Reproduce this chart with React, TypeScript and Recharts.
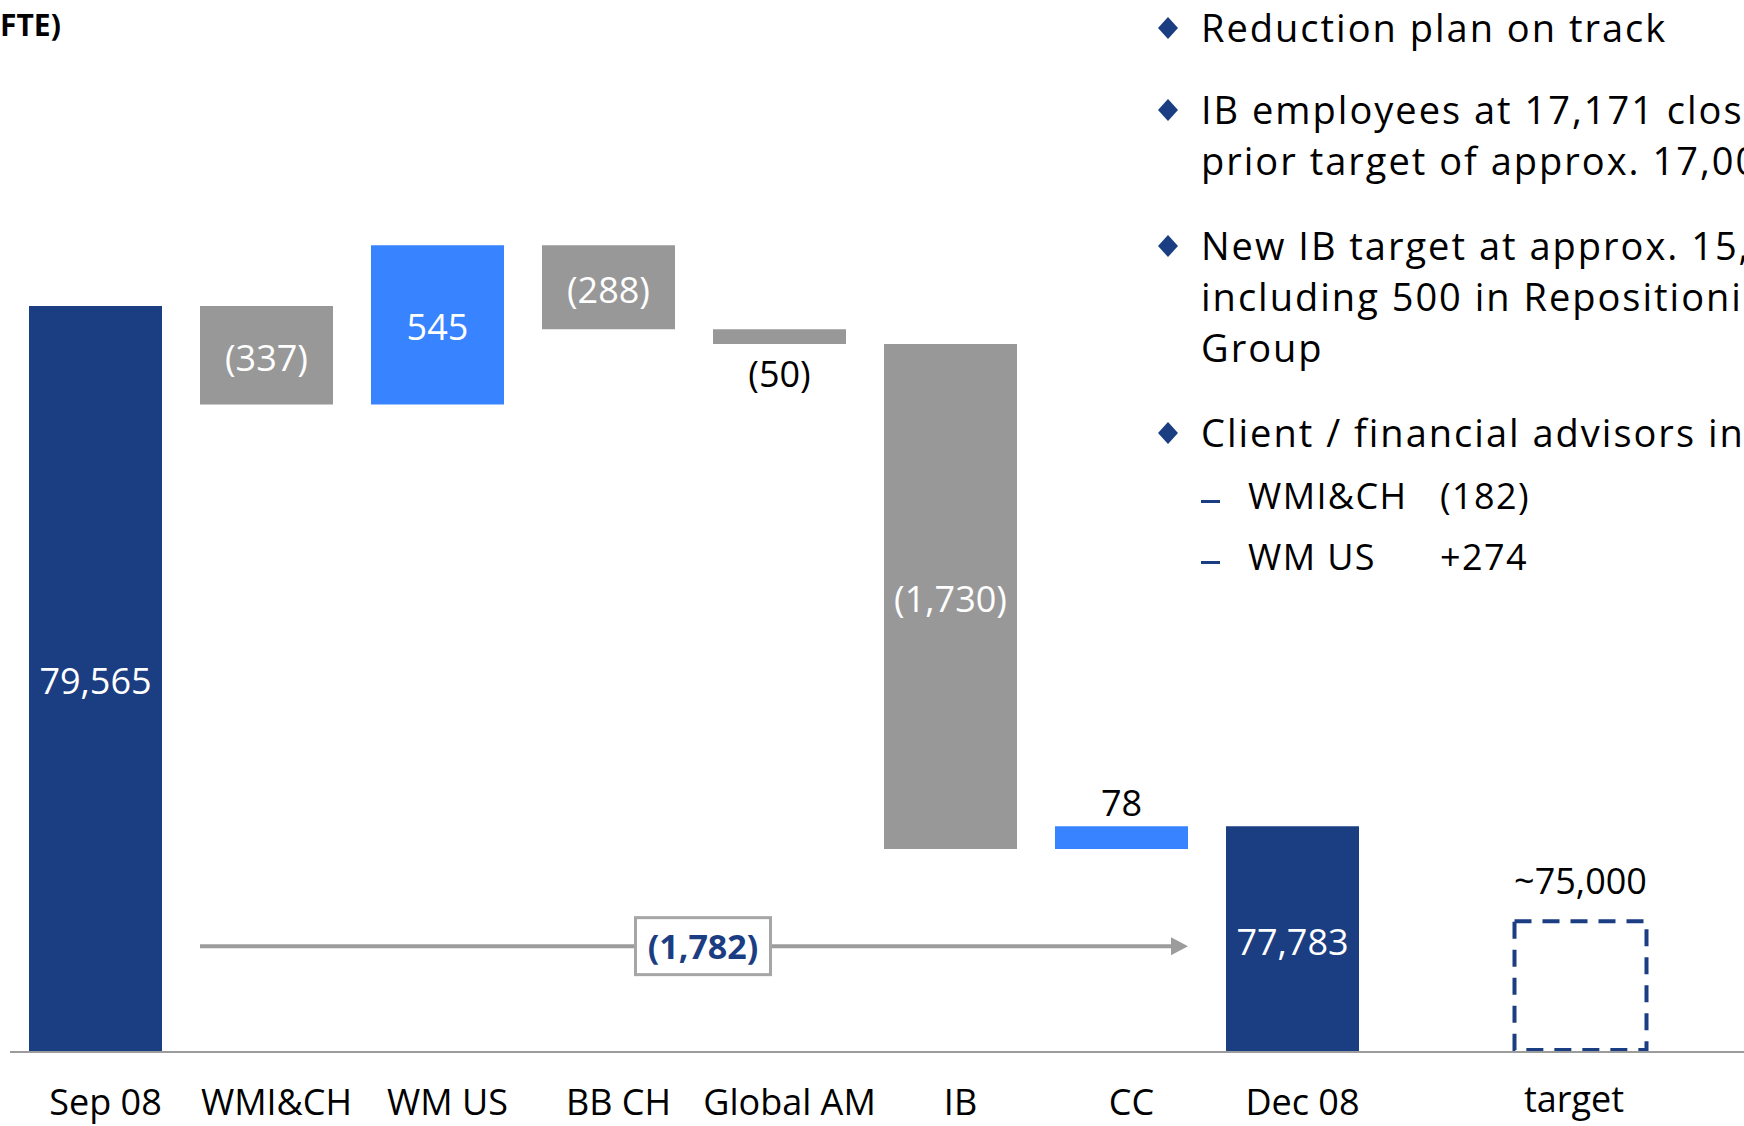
import { BarChart, Bar, XAxis, YAxis, Cell, LabelList, ReferenceLine } from 'recharts'

// Headcount bridge Sep 08 -> Dec 08 (FTE)
const categories = ['Sep 08', 'WMI&CH', 'WM US', 'BB CH', 'Global AM', 'IB', 'CC', 'Dec 08']
const startFte = 79565
const divisionChanges = [-337, 545, -288, -50, -1730, 78]
const endFte = 77783

const targetCategories = ['target']
const targetFte = [75000]
const targetLabels = ['~75,000']

const bulletLines = [
  ['Reduction plan on track'],
  ['IB employees at 17,171 close to', 'prior target of approx. 17,000'],
  ['New IB target at approx. 15,000', 'including 500 in Repositioning', 'Group'],
  ['Client / financial advisors in'],
]
const subItems = [
  ['WMI&CH', '(182)'],
  ['WM US', '+274'],
]

// truncated value axis of the bridge, and the "not to scale" axis of the target box
const yMin = 77010
const yMax = 80500
const targetYMin = 74545
const targetYMax = 78035

const NAVY = '#1b3d82'
const BLUE = '#3883ff'
const GREY = '#989898'
const AXIS = '#9c9c9c'
const FONT = "'Open Sans', 'Noto Sans', sans-serif"
const BAR_SIZE = 133

const withCommas = (n: number) => String(Math.abs(n)).replace(/\B(?=(\d{3})+(?!\d))/g, ',')
const fmt = (n: number) => (n < 0 ? `(${withCommas(n)})` : withCommas(n))

type Row = { name: string; range: [number, number]; kind: 'total' | 'up' | 'down'; label: string }

const rows: Row[] = [{ name: categories[0], range: [yMin, startFte], kind: 'total', label: fmt(startFte) }]
let level = startFte
divisionChanges.forEach((d, i) => {
  const next = level + d
  rows.push({
    name: categories[i + 1],
    range: [Math.min(level, next), Math.max(level, next)],
    kind: d >= 0 ? 'up' : 'down',
    label: fmt(d),
  })
  level = next
})
rows.push({ name: categories[categories.length - 1], range: [yMin, endFte], kind: 'total', label: fmt(endFte) })

const bridgeChange = endFte - startFte
const bridgeY = (yMin + endFte) / 2

const targetRows = targetCategories.map((name, i) => ({
  name,
  range: [targetYMin, targetFte[i]],
  label: targetLabels[i],
}))

const colorOf = (kind: Row['kind']) => (kind === 'total' ? NAVY : kind === 'up' ? BLUE : GREY)

function boxOf(props: any) {
  const vb = props.viewBox ?? props
  const x = Number(vb.x ?? props.x)
  const y = Number(vb.y ?? props.y)
  const w = Number(vb.width ?? props.width)
  const h = Number(vb.height ?? props.height)
  return { x, w, top: Math.min(y, y + h), h: Math.abs(h) }
}

const ValueLabel = (props: any) => {
  const { x, w, top, h } = boxOf(props)
  const text = String(props.value)
  let cy = top + h / 2 + 2
  let fill = '#fff'
  // thin bars get their value outside, below for cuts and above for additions
  if (h < 40) {
    fill = '#000'
    cy = text.startsWith('(') ? top + h + 30 : top - 24
  }
  return (
    <text x={x + w / 2} y={cy} textAnchor="middle" dominantBaseline="central" fontSize={36} fontFamily={FONT} fill={fill}>
      {text}
    </text>
  )
}

const TargetLabel = (props: any) => {
  const { x, w, top } = boxOf(props)
  return (
    <text x={x + w / 2} y={top - 39} textAnchor="middle" dominantBaseline="central" fontSize={36} fontFamily={FONT} fill="#000">
      {String(props.value)}
    </text>
  )
}

const makeTick = (dx: number, dy: number) => (props: any) => {
  const { x, y, payload } = props
  return (
    <text x={x + dx} y={y + dy} textAnchor="middle" dominantBaseline="central" fontSize={36} fontFamily={FONT} fill="#000">
      {payload.value}
    </text>
  )
}

const BridgeArrow = (props: any) => {
  const left = props.x1 - BAR_SIZE / 2
  const right = props.x2 + BAR_SIZE / 2
  const y = props.y1 + 7
  const mid = (left + right) / 2 + 9
  return (
    <g>
      <line x1={left} y1={y} x2={right - 14} y2={y} stroke={AXIS} strokeWidth={4} />
      <polygon points={`${right - 17},${y - 9} ${right},${y} ${right - 17},${y + 9}`} fill={AXIS} />
      <rect x={mid - 67.5} y={y - 28.5} width={135} height={57} fill="#fff" stroke="#a6a6a6" strokeWidth={3} />
      <text x={mid} y={y} textAnchor="middle" dominantBaseline="central" fontSize={34} fontWeight={700} fontFamily={FONT} fill={NAVY}>
        {fmt(bridgeChange)}
      </text>
    </g>
  )
}

const DashedBox = (props: any) => {
  const { x, y, width, height } = props
  return (
    <rect x={x + 2} y={y + 2} width={width - 4} height={height - 4} fill="none" stroke={NAVY} strokeWidth={4} strokeDasharray="17 11" />
  )
}

const Diamond = () => (
  <svg width={20} height={22} style={{ display: 'block' }}>
    <polygon points="10,0 20,11 10,22 0,11" fill={NAVY} />
  </svg>
)

const paraTops = [27, 109, 245, 432]
const subTops = [496, 557]

export default function App() {
  return (
    <div
      style={{
        position: 'absolute',
        left: 0,
        top: 0,
        width: 1744,
        height: 1126,
        overflow: 'hidden',
        background: '#fff',
        fontFamily: FONT,
        color: '#000',
      }}
    >
      <div style={{ position: 'absolute', left: 0, top: 6, fontSize: 30, fontWeight: 700, whiteSpace: 'nowrap', lineHeight: '38px' }}>
        FTE)
      </div>

      <div style={{ position: 'absolute', left: 0, top: 0 }}>
        <BarChart width={1378} height={1126} data={rows} margin={{ top: 33, right: 0, left: 10, bottom: 0 }} barSize={BAR_SIZE}>
          <XAxis
            dataKey="name"
            interval={0}
            height={74}
            tickLine={false}
            tickSize={0}
            tickMargin={0}
            axisLine={{ stroke: AXIS, strokeWidth: 2 }}
            tick={makeTick(10, 49)}
          />
          <YAxis hide type="number" domain={[yMin, yMax]} allowDataOverflow />
          <Bar dataKey="range" isAnimationActive={false}>
            {rows.map((r, i) => (
              <Cell key={`cell-${i}`} fill={colorOf(r.kind)} />
            ))}
            <LabelList dataKey="label" content={ValueLabel} />
          </Bar>
          <ReferenceLine
            segment={[
              { x: categories[1], y: bridgeY },
              { x: categories[6], y: bridgeY },
            ]}
            shape={(p: any) => <BridgeArrow {...p} />}
          />
        </BarChart>
      </div>

      <div style={{ position: 'absolute', left: 1378, top: 0 }}>
        <BarChart width={366} height={1126} data={targetRows} margin={{ top: 33, right: 0, left: 0, bottom: 0 }} barSize={136}>
          <XAxis
            dataKey="name"
            interval={0}
            height={74}
            tickLine={false}
            tickSize={0}
            tickMargin={0}
            padding={{ left: 116.5, right: 78.5 }}
            axisLine={{ stroke: AXIS, strokeWidth: 2 }}
            tick={makeTick(-6, 46)}
          />
          <YAxis hide type="number" domain={[targetYMin, targetYMax]} allowDataOverflow />
          <Bar dataKey="range" isAnimationActive={false} shape={(p: any) => <DashedBox {...p} />}>
            <LabelList dataKey="label" content={TargetLabel} />
          </Bar>
        </BarChart>
      </div>

      {bulletLines.map((lines, i) => (
        <div key={`para-${i}`}>
          <div style={{ position: 'absolute', left: 1158, top: paraTops[i] - 10 }}>
            <Diamond />
          </div>
          {lines.map((line, j) => (
            <div
              key={`line-${i}-${j}`}
              style={{
                position: 'absolute',
                left: 1201,
                top: paraTops[i] + j * 51 - 25.5,
                fontSize: 38,
                letterSpacing: '2px',
                lineHeight: '51px',
                whiteSpace: 'nowrap',
              }}
            >
              {line}
            </div>
          ))}
        </div>
      ))}

      {subItems.map(([name, val], i) => (
        <div key={`sub-${i}`}>
          <div style={{ position: 'absolute', left: 1201, top: subTops[i] + 4, width: 19, height: 3, background: NAVY }} />
          <div style={{ position: 'absolute', left: 1248, top: subTops[i] - 25, fontSize: 36, letterSpacing: '1.4px', lineHeight: '50px', whiteSpace: 'nowrap' }}>
            {name}
          </div>
          <div style={{ position: 'absolute', left: 1440, top: subTops[i] - 25, fontSize: 36, letterSpacing: '1.4px', lineHeight: '50px', whiteSpace: 'nowrap' }}>
            {val}
          </div>
        </div>
      ))}
    </div>
  )
}
